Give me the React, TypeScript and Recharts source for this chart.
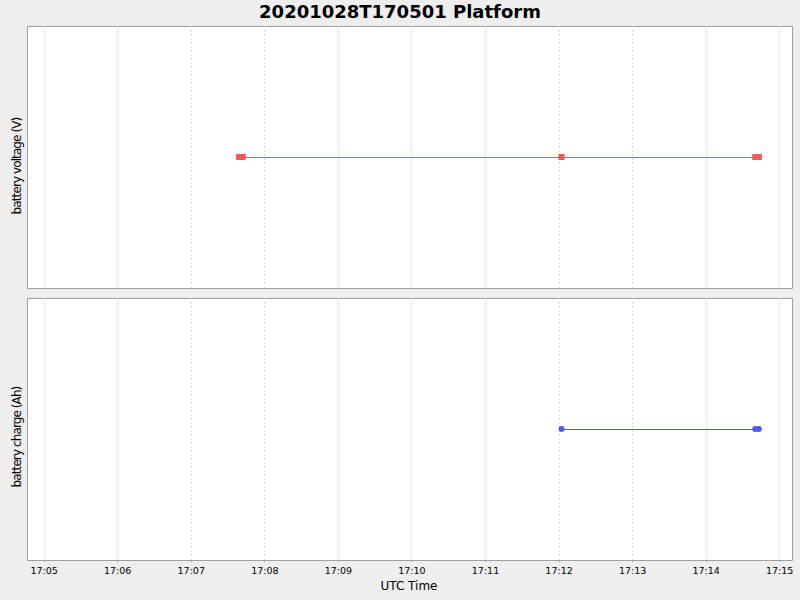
import { LineChart, Line, XAxis, YAxis, ReferenceLine } from "recharts";

const VOLT_TIMES = ["17:07:39", "17:07:42", "17:12:02", "17:14:40", "17:14:43"];
const VOLT_VALUES = [12.1, 12.1, 12.1, 12.1, 12.1];
const CHARGE_TIMES = ["17:12:02", "17:14:40", "17:14:43"];
const CHARGE_VALUES = [5.0, 5.0, 5.0];
const TICK_LABELS = ["17:05", "17:06", "17:07", "17:08", "17:09", "17:10", "17:11", "17:12", "17:13", "17:14", "17:15"];
const X_RANGE = ["17:04:46", "17:15:10"];

const FONT = "DejaVu Sans, sans-serif";
const RED = "#ff5555";
const BLUE = "#5555ff";
const GRID = "#dcdcdc";
const BORDER = "#a0a0a0";

const toSec = (s: string) => {
  const [h, m, sec = "0"] = s.split(":");
  return Number(h) * 3600 + Number(m) * 60 + Number(sec);
};
const fmt = (v: number) => {
  const h = Math.floor(v / 3600);
  const m = Math.round((v - h * 3600) / 60);
  return `${h}:${String(m).padStart(2, "0")}`;
};

const voltData = VOLT_TIMES.map((t, i) => ({ t: toSec(t), v: VOLT_VALUES[i] }));
const chargeData = CHARGE_TIMES.map((t, i) => ({ t: toSec(t), v: CHARGE_VALUES[i] }));
const ticks = TICK_LABELS.map(toSec);
const domain = X_RANGE.map(toSec);

const Square = (props: any) => {
  const { cx, cy, index } = props;
  if (cx == null || cy == null) return <g key={index} />;
  return <rect key={index} x={cx - 3} y={cy - 3} width={6} height={6} fill={RED} />;
};

const plotBox = (top: number): React.CSSProperties => ({
  position: "absolute",
  left: 27,
  top,
  width: 766,
  height: 263,
  boxSizing: "border-box",
  background: "#fff",
  border: `1px solid ${BORDER}`,
});

// crisp 1px lines like the original
const css = `
.recharts-curve, .recharts-reference-line-line, .recharts-cartesian-axis-tick-line { shape-rendering: crispEdges; }
`;

export default function App() {
  return (
    <div style={{ position: "absolute", left: 0, top: 0, width: 800, height: 600, background: "#eeeeee", fontFamily: FONT }}>
      <style>{css}</style>
      <div style={plotBox(26)} />
      <div style={plotBox(298)} />

      <div style={{ position: "absolute", left: 0, top: 0 }}>
        <LineChart width={800} height={298} data={voltData} margin={{ top: 26, right: 8, bottom: 10, left: 27 }}>
          <XAxis type="number" dataKey="t" domain={domain} ticks={ticks} hide allowDataOverflow />
          <YAxis type="number" domain={["dataMin - 1", "dataMax + 1"]} hide />
          {ticks.map((t) => (
            <ReferenceLine key={t} x={t} stroke={GRID} strokeDasharray="2 2" />
          ))}
          <Line
            type="linear"
            dataKey="v"
            stroke={RED}
            strokeWidth={1}
            dot={Square}
            activeDot={false}
            isAnimationActive={false}
          />
        </LineChart>
      </div>

      <div style={{ position: "absolute", left: 0, top: 288 }}>
        <LineChart width={800} height={312} data={chargeData} margin={{ top: 10, right: 8, bottom: 14, left: 27 }}>
          <XAxis
            type="number"
            dataKey="t"
            domain={domain}
            ticks={ticks}
            tickFormatter={fmt}
            allowDataOverflow
            height={26}
            axisLine={false}
            tickLine={{ stroke: BORDER }}
            tickSize={2}
            tickMargin={5}
            tick={{ fontSize: 9.5, fill: "#000", fontFamily: FONT }}
          />
          <YAxis type="number" domain={["dataMin - 1", "dataMax + 1"]} hide />
          {ticks.map((t) => (
            <ReferenceLine key={t} x={t} stroke={GRID} strokeDasharray="2 2" />
          ))}
          <Line
            type="linear"
            dataKey="v"
            stroke={BLUE}
            strokeWidth={1}
            dot={{ r: 3, fill: BLUE, stroke: "none" }}
            activeDot={false}
            isAnimationActive={false}
          />
        </LineChart>
      </div>

      <svg width={800} height={600} style={{ position: "absolute", left: 0, top: 0, pointerEvents: "none" }}>
        <text x={400} y={18} textAnchor="middle" fontSize={18} fontWeight="bold" fontFamily={FONT} fill="#000">
          20201028T170501 Platform
        </text>
        <text
          transform="translate(21,166) rotate(-90)"
          textAnchor="middle"
          fontSize={12}
          letterSpacing={-0.9}
          fontFamily={FONT}
          fill="#000"
        >
          battery voltage (V)
        </text>
        <text
          transform="translate(21,437) rotate(-90)"
          textAnchor="middle"
          fontSize={12}
          letterSpacing={-0.9}
          fontFamily={FONT}
          fill="#000"
        >
          battery charge (Ah)
        </text>
        <text x={409} y={590} textAnchor="middle" fontSize={12} fontFamily={FONT} fill="#000">
          UTC Time
        </text>
      </svg>
    </div>
  );
}
